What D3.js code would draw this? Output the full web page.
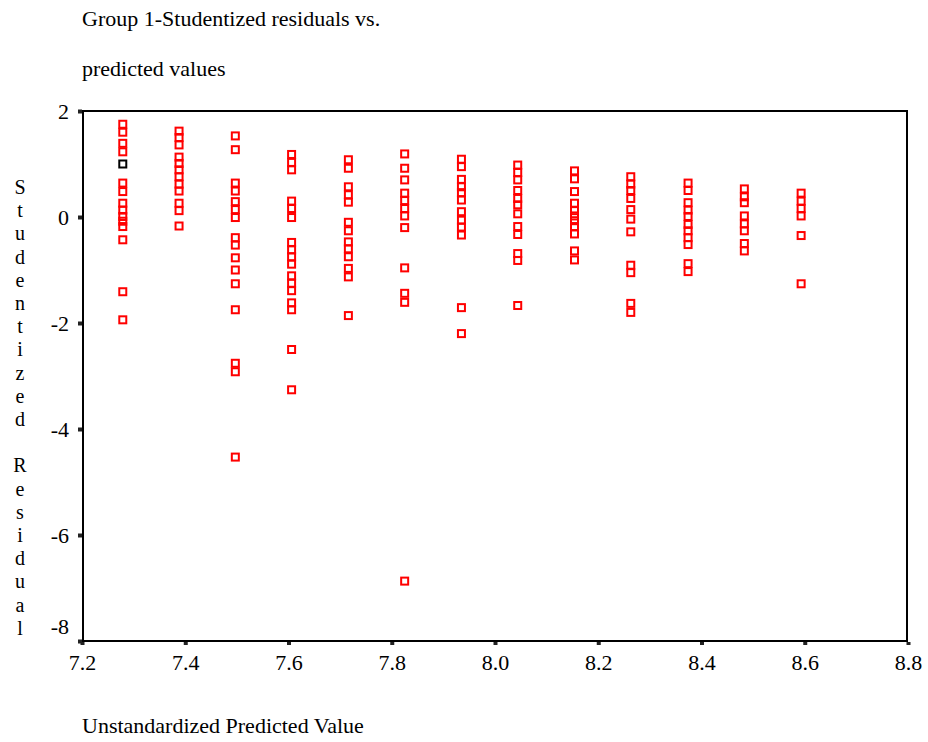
<!DOCTYPE html>
<html>
<head>
<meta charset="utf-8">
<script src="https://cdn.jsdelivr.net/npm/d3@7/dist/d3.min.js"></script>
<style>
  html, body { margin: 0; padding: 0; background: #fff; }
  svg text { font-family: "Liberation Serif", "Times New Roman", serif !important; fill: #000; }
</style>
</head>
<body>
<svg id="chart" width="928" height="742"></svg>
<script>
// Predicted value levels (one column of cases per level)
const predicted = [7.279, 7.388, 7.497, 7.606, 7.716, 7.825, 7.935, 8.044, 8.154, 8.263, 8.374, 8.483, 8.593];

// Studentized residuals of the cases at each predicted level
const residuals = [
  [1.75, 1.60, 1.39, 1.23, 1.00, 0.64, 0.48, 0.26, 0.13, 0.01, -0.08, -0.18, -0.43, -1.41, -1.94],
  [1.62, 1.50, 1.36, 1.13, 1.01, 0.89, 0.76, 0.62, 0.49, 0.26, 0.12, -0.17],
  [1.53, 1.27, 0.64, 0.49, 0.29, 0.14, -0.01, -0.39, -0.53, -0.77, -1.00, -1.26, -1.75, -2.76, -2.92, -4.53],
  [1.18, 1.03, 0.89, 0.30, 0.16, -0.01, -0.48, -0.62, -0.75, -0.89, -1.11, -1.25, -1.39, -1.62, -1.75, -2.50, -3.26],
  [1.08, 0.92, 0.57, 0.42, 0.28, -0.10, -0.26, -0.47, -0.60, -0.75, -0.97, -1.13, -1.86],
  [1.19, 0.92, 0.70, 0.45, 0.31, 0.16, 0.02, -0.20, -0.96, -1.44, -1.61, -6.87],
  [1.09, 0.95, 0.71, 0.57, 0.46, 0.32, 0.10, -0.06, -0.19, -0.34, -1.71, -2.20],
  [0.98, 0.84, 0.70, 0.50, 0.35, 0.23, 0.06, -0.18, -0.33, -0.69, -0.82, -1.67],
  [0.87, 0.72, 0.48, 0.26, 0.12, 0.02, -0.07, -0.18, -0.32, -0.64, -0.81],
  [0.76, 0.62, 0.50, 0.35, 0.14, -0.04, -0.28, -0.91, -1.05, -1.63, -1.80],
  [0.64, 0.50, 0.27, 0.13, 0.01, -0.14, -0.26, -0.39, -0.52, -0.88, -1.03],
  [0.53, 0.38, 0.27, 0.02, -0.13, -0.26, -0.50, -0.64],
  [0.45, 0.30, 0.16, 0.02, -0.35, -1.26]
];

// Selected case, drawn in black: [level index, case index]
const selectedCase = [0, 4];

const xTicks = [7.2, 7.4, 7.6, 7.8, 8.0, 8.2, 8.4, 8.6, 8.8];
const xTickLabels = ["7.2", "7.4", "7.6", "7.8", "8.0", "8.2", "8.4", "8.6", "8.8"];
const yTicks = [2, 0, -2, -4, -6, -8];
const yTickLabels = ["2", "0", "-2", "-4", "-6", "-8"];

const titleLines = ["Group 1-Studentized residuals vs.", "predicted values"];
const xTitle = "Unstandardized Predicted Value";
const yTitle = "Studentized Residual";

const serif = '"Liberation Serif", "Times New Roman", serif';
const svg = d3.select("#chart");
const plot = { left: 82, right: 908, top: 111, bottom: 641 };

const x = d3.scaleLinear().domain([7.2, 8.8]).range([plot.left, plot.right]);
const y = d3.scaleLinear().domain([-8, 2]).range([plot.bottom, plot.top]);

// Title
svg.selectAll("text.title").data(titleLines).join("text")
  .attr("class", "title")
  .attr("x", 82)
  .attr("y", (d, i) => 26 + i * 50)
  .style("font-size", "22px")
  .text(d => d);

// Frame
svg.append("rect")
  .attr("x", plot.left + 1).attr("y", plot.top)
  .attr("width", plot.right - plot.left - 2).attr("height", plot.bottom - plot.top)
  .attr("fill", "none").attr("stroke", "#000").attr("stroke-width", 2);

// Axes: small square tick marks just outside the frame, labels beyond
const xAxis = d3.axisBottom(x).tickValues(xTicks).tickSize(0).tickPadding(0)
  .tickFormat((d, i) => xTickLabels[i]);
const gx = svg.append("g").attr("transform", `translate(0,${plot.bottom})`).call(xAxis);
gx.attr("font-family", null).attr("font-size", null);
gx.select(".domain").remove();
gx.selectAll(".tick text")
  .attr("dy", null).attr("y", 29)
  .style("font-size", "22px")
  .style("font-family", serif)
  .attr("fill", "#000");
gx.selectAll(".tick").append("rect")
  .attr("x", -2).attr("y", 1).attr("width", 4).attr("height", 3).attr("fill", "#222");

const yAxis = d3.axisLeft(y).tickValues(yTicks).tickSize(0).tickPadding(0)
  .tickFormat((d, i) => yTickLabels[i]);
const gy = svg.append("g").attr("transform", `translate(${plot.left + 1},0)`).call(yAxis);
gy.attr("font-family", null).attr("font-size", null);
gy.select(".domain").remove();
gy.selectAll(".tick text")
  .attr("x", -14)
  .attr("dy", d => d === -8 ? "-0.35em" : "0.32em")
  .style("font-size", "22px")
  .style("font-family", serif)
  .attr("fill", "#000");
gy.selectAll(".tick").append("rect")
  .attr("x", -5).attr("y", -2).attr("width", 4).attr("height", 4).attr("fill", "#222");

// Y axis title, one letter per line
const yLetters = yTitle.split("");
svg.append("g").selectAll("text").data(yLetters).join("text")
  .attr("x", 20)
  .attr("y", (d, i) => 194 + i * 23.2)
  .attr("text-anchor", "middle")
  .style("font-size", "20px")
  .text(d => d);

// X axis title
svg.append("text")
  .attr("x", 82).attr("y", 733)
  .style("font-size", "22px")
  .text(xTitle);

// Points
const points = [];
predicted.forEach((p, i) => {
  residuals[i].forEach((r, j) => {
    points.push({ x: p, y: r, selected: i === selectedCase[0] && j === selectedCase[1] });
  });
});
points.sort((a, b) => a.selected - b.selected);

const s = 7;
svg.append("g").selectAll("rect").data(points).join("rect")
  .attr("x", d => x(d.x) - s / 2)
  .attr("y", d => y(d.y) - s / 2)
  .attr("width", s).attr("height", s)
  .attr("fill", "none")
  .attr("stroke", d => d.selected ? "#000" : "#f00")
  .attr("stroke-width", 2);
</script>
</body>
</html>
